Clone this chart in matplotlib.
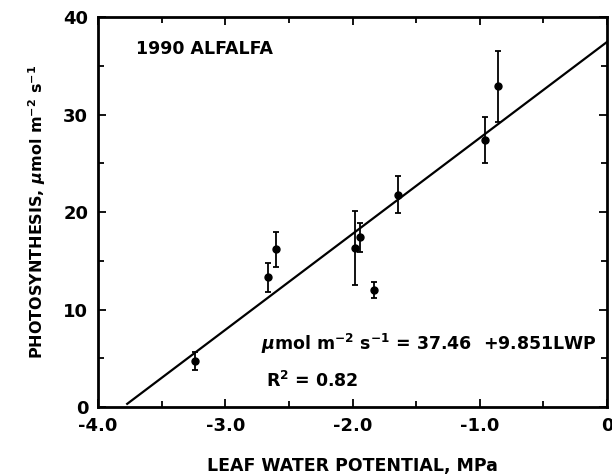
import numpy as np
import matplotlib.pyplot as plt
from matplotlib.ticker import MultipleLocator

# Leaf water potential (MPa) and photosynthesis (umol m-2 s-1)
lwp = [-3.24, -2.66, -2.60, -1.98, -1.94, -1.83, -1.64, -0.96, -0.86]
photo = [4.7, 13.3, 16.2, 16.3, 17.4, 12.0, 21.8, 27.4, 32.9]
err = [0.9, 1.5, 1.8, 3.8, 1.5, 0.85, 1.9, 2.4, 3.65]

# Regression: umol = 37.46 + 9.851 LWP
intercept = 37.46
slope = 9.851
fit_x = np.array([-3.77, 0.0])
fit_y = intercept + slope * fit_x

plt.rcParams['font.family'] = ['DejaVu Sans']
plt.rcParams['font.weight'] = 'bold'
plt.rcParams['axes.labelweight'] = 'bold'
plt.rcParams['mathtext.default'] = 'bf'

fig = plt.figure(figsize=(6.12, 4.76), dpi=100)
ax = fig.add_axes([0.160, 0.145, 0.832, 0.819])

ax.plot(fit_x, fit_y, color='black', lw=1.6)
ax.errorbar(lwp, photo, yerr=err, fmt='o', color='black', ms=5,
            elinewidth=1.3, capsize=2.5, capthick=1.3)

ax.set_xlim(-4.0, 0)
ax.set_ylim(0, 40)
ax.xaxis.set_major_locator(MultipleLocator(1.0))
ax.xaxis.set_minor_locator(MultipleLocator(0.5))
ax.yaxis.set_major_locator(MultipleLocator(10))
ax.yaxis.set_minor_locator(MultipleLocator(5))
ax.set_xticks([-4, -3, -2, -1, 0])
ax.set_xticklabels(['-4.0', '-3.0', '-2.0', '-1.0', '0'])
ax.tick_params(which='both', direction='in', top=True, right=True,
               width=1.3, labelsize=13, pad=7)
ax.tick_params(which='major', length=6)
ax.tick_params(which='minor', length=4)
for s in ax.spines.values():
    s.set_linewidth(2.0)

ax.set_xlabel('LEAF WATER POTENTIAL, MPa', fontsize=12.5, labelpad=16)
ax.set_ylabel(r'PHOTOSYNTHESIS, $\mathbfit{\mu}$mol m$^{-2}$ s$^{-1}$',
              fontsize=11.5, labelpad=11)

ax.text(0.075, 0.905, '1990 ALFALFA', transform=ax.transAxes, fontsize=12.5)
ax.text(0.32, 0.145, r'$\mathbfit{\mu}$mol m$^{-2}$ s$^{-1}$ = 37.46  +9.851LWP',
        transform=ax.transAxes, fontsize=12.5)
ax.text(0.33, 0.05, r'R$^{2}$ = 0.82', transform=ax.transAxes, fontsize=12.5)

fig.savefig('out.png', dpi=100)
